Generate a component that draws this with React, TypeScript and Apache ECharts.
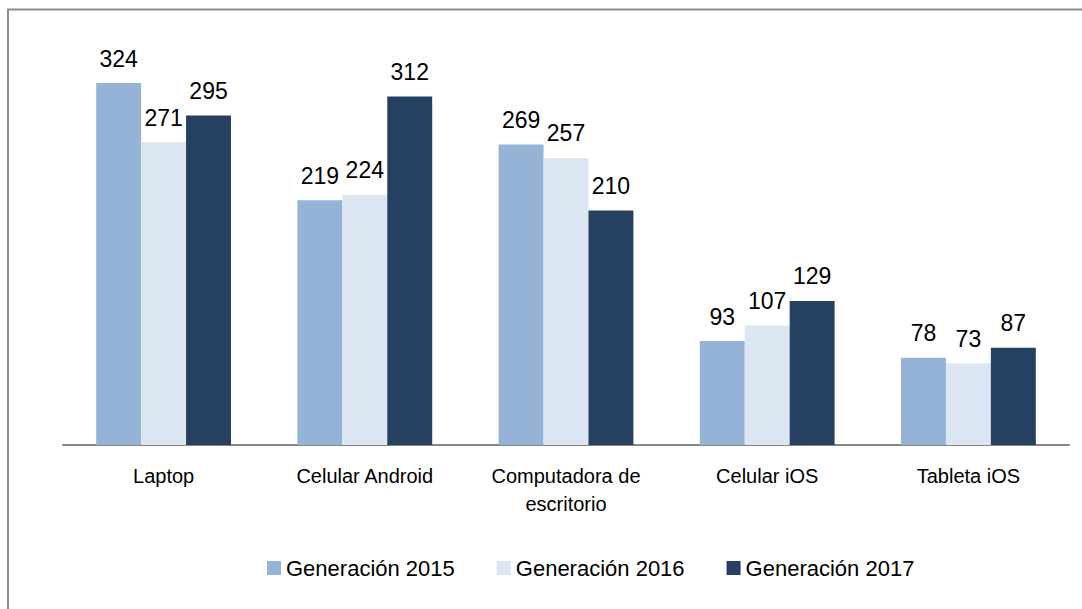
import React, { useEffect, useRef } from "react";
import * as echarts from "echarts";

const categories = ["Laptop", "Celular Android", "Computadora de\nescritorio", "Celular iOS", "Tableta iOS"];
const seriesNames = ["Generación 2015", "Generación 2016", "Generación 2017"];
const gen2015 = [324, 219, 269, 93, 78];
const gen2016 = [271, 224, 257, 107, 73];
const gen2017 = [295, 312, 210, 129, 87];
const colors = ["#95B3D7", "#DCE6F2", "#254061"];

const FONT = "'Liberation Sans', Arial, sans-serif";

export default function App() {
  const ref = useRef<HTMLDivElement>(null);
  useEffect(() => {
    const chart = echarts.init(ref.current!, null, { renderer: "svg" });
    const data = [gen2015, gen2016, gen2017];
    chart.setOption({
      animation: false,
      textStyle: { fontFamily: FONT },
      grid: { left: 63, right: 13, top: 54, bottom: 164 },
      xAxis: {
        type: "category",
        data: categories,
        axisLine: { lineStyle: { color: "#868686", width: 2 } },
        axisTick: { show: false },
        axisLabel: { interval: 0, color: "#000", fontSize: 20, fontFamily: FONT, margin: 17, lineHeight: 28 },
      },
      yAxis: { type: "value", min: 0, max: 350, show: false },
      legend: {
        top: 557,
        left: 267,
        padding: 0,
        itemWidth: 14,
        itemHeight: 14,
        itemGap: 42,
        icon: "rect",
        textStyle: { fontSize: 22, color: "#000", fontFamily: FONT },
        data: seriesNames,
      },
      graphic: [
        { type: "line", shape: { x1: 7, y1: 9.5, x2: 1082, y2: 9.5 }, style: { stroke: "#8c8c8c", lineWidth: 2 } },
        { type: "line", shape: { x1: 8, y1: 9, x2: 8, y2: 609 }, style: { stroke: "#8c8c8c", lineWidth: 2 } },
      ],
      series: seriesNames.map((name, i) => ({
        name,
        type: "bar",
        data: data[i],
        barGap: "0%",
        barCategoryGap: "33%",
        itemStyle: { color: colors[i] },
        label: { show: true, position: "top", distance: 13, fontSize: 23, color: "#000", fontFamily: FONT },
      })),
    });
    return () => chart.dispose();
  }, []);
  return (
    <div style={{ position: "absolute", left: 0, top: 0, width: 1082, height: 609, background: "#fff" }}>
      <div ref={ref} style={{ width: 1082, height: 609 }} />
    </div>
  );
}
